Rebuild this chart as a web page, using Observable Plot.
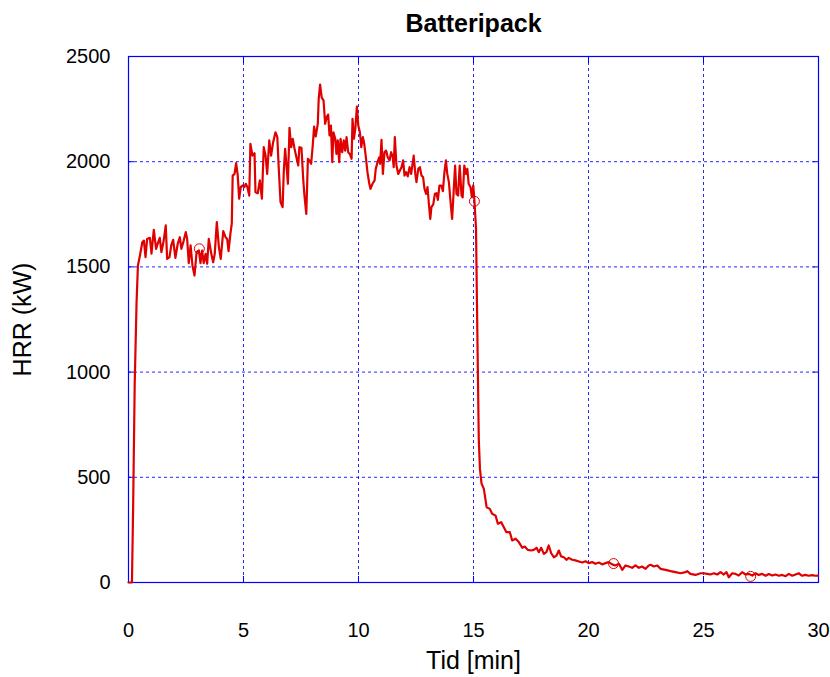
<!DOCTYPE html>
<html>
<head>
<meta charset="utf-8">
<script src="https://cdn.jsdelivr.net/npm/d3@7"></script>
<script src="https://cdn.jsdelivr.net/npm/@observablehq/plot@0.6"></script>
<style>
  html, body { margin: 0; padding: 0; background: #fff; }
  #chart { width: 830px; height: 677px; }
</style>
</head>
<body>
<div id="chart"></div>
<script>
const title = "Batteripack";
const xLabel = "Tid [min]";
const yLabel = "HRR (kW)";
const xTicks = [0, 5, 10, 15, 20, 25, 30];
const yTicks = [0, 500, 1000, 1500, 2000, 2500];

const time = [
  0, 0.15, 0.2, 0.27, 0.35, 0.41, 0.49, 0.6, 0.67, 0.74, 0.81, 0.93, 1.0, 1.1, 1.2, 1.29, 1.36, 1.43, 1.53, 1.62,
  1.68, 1.78, 1.86, 1.94, 2.04, 2.14, 2.23, 2.3, 2.4, 2.49, 2.55, 2.62, 2.7, 2.78, 2.87, 2.96, 3.06, 3.13, 3.2, 3.27,
  3.35, 3.42, 3.49, 3.6, 3.68, 3.75, 3.84, 3.93, 4.01, 4.12, 4.22, 4.29, 4.35, 4.43, 4.49, 4.53, 4.61, 4.68, 4.75, 4.81,
  4.88, 4.96, 5.03, 5.1, 5.17, 5.25, 5.3, 5.39, 5.48, 5.52, 5.62, 5.71, 5.8, 5.88, 5.96, 6.03, 6.12, 6.2, 6.29, 6.39,
  6.47, 6.53, 6.61, 6.7, 6.75, 6.81, 6.87, 6.93, 7.0, 7.07, 7.14, 7.22, 7.3, 7.38, 7.43, 7.52, 7.6, 7.65, 7.73, 7.8,
  7.87, 7.94, 8.01, 8.07, 8.14, 8.23, 8.27, 8.33, 8.4, 8.48, 8.55, 8.62, 8.68, 8.74, 8.8, 8.86, 8.91, 8.99, 9.04, 9.1,
  9.16, 9.22, 9.29, 9.36, 9.42, 9.48, 9.55, 9.62, 9.7, 9.74, 9.8, 9.86, 9.93, 9.99, 10.06, 10.12, 10.19, 10.25, 10.32, 10.39,
  10.47, 10.52, 10.61, 10.7, 10.75, 10.83, 10.9, 10.94, 11.0, 11.06, 11.13, 11.2, 11.27, 11.35, 11.42, 11.49, 11.53, 11.58, 11.65, 11.73,
  11.8, 11.87, 11.94, 12.0, 12.07, 12.14, 12.22, 12.29, 12.35, 12.4, 12.47, 12.52, 12.6, 12.67, 12.74, 12.81, 12.87, 12.94, 13.0, 13.06,
  13.12, 13.17, 13.25, 13.32, 13.39, 13.45, 13.52, 13.6, 13.67, 13.73, 13.8, 13.86, 13.93, 13.99, 14.07, 14.14, 14.2, 14.26, 14.33, 14.4,
  14.48, 14.53, 14.6, 14.67, 14.73, 14.79, 14.87, 14.93, 14.99, 15.04, 15.11, 15.15, 15.19, 15.23, 15.28, 15.35, 15.45, 15.57, 15.71, 15.81,
  15.96, 16.06, 16.2, 16.32, 16.43, 16.58, 16.68, 16.83, 16.97, 17.12, 17.23, 17.36, 17.51, 17.62, 17.74, 17.84, 17.94, 18.06, 18.17, 18.27,
  18.38, 18.49, 18.61, 18.71, 18.81, 18.93, 19.04, 19.14, 19.29, 19.43, 19.58, 19.73, 19.87, 20.01, 20.16, 20.3, 20.45, 20.6, 20.74, 20.88,
  21.03, 21.17, 21.32, 21.47, 21.61, 21.75, 21.9, 22.04, 22.19, 22.33, 22.48, 22.62, 22.7, 22.84, 22.99, 23.13, 23.35, 23.57, 23.78, 24.0,
  24.22, 24.29, 24.43, 24.65, 24.87, 25.01, 25.16, 25.3, 25.45, 25.6, 25.74, 25.88, 26.0, 26.1, 26.25, 26.39, 26.53, 26.68, 26.83, 26.97,
  27.12, 27.26, 27.4, 27.55, 27.7, 27.84, 27.99, 28.13, 28.28, 28.42, 28.57, 28.71, 28.86, 29.0, 29.14, 29.29, 29.43, 29.57, 29.73, 29.87,
  29.97
];

const hrr = [
  0, 0, 350, 946, 1330, 1507, 1549, 1617, 1625, 1546, 1633, 1638, 1563, 1676, 1586, 1617, 1638, 1570, 1625, 1697,
  1538, 1546, 1602, 1629, 1543, 1610, 1641, 1586, 1625, 1665, 1633, 1518, 1602, 1507, 1459, 1570, 1578, 1518, 1578, 1518,
  1562, 1515, 1633, 1562, 1522, 1562, 1713, 1594, 1538, 1670, 1641, 1633, 1575, 1657, 1705, 1934, 1942, 1993, 1934, 1824,
  1879, 1887, 1879, 1895, 1879, 1839, 2085, 2029, 2040, 1855, 1850, 1911, 1824, 2069, 2029, 1942, 2101, 2029, 2093, 2140,
  2117, 1974, 1808, 1784, 1950, 2061, 1982, 1895, 2161, 2069, 2109, 2061, 2021, 1982, 2069, 2066, 1911, 1839, 1752, 2014,
  2006, 1990, 2077, 2167, 2120, 2180, 2299, 2367, 2304, 2291, 2180, 2212, 2224, 2125, 2172, 1998, 2140, 2109, 2037, 2101,
  1998, 2109, 2045, 2101, 2053, 2117, 2045, 2037, 2014, 2204, 2109, 2156, 2262, 2172, 2140, 2069, 2117, 2085, 2021, 1950,
  1895, 1871, 1895, 1911, 1966, 1998, 2021, 1990, 2104, 1942, 2045, 2053, 2021, 2006, 2045, 2021, 1974, 2117, 1982, 1942,
  1958, 1974, 2006, 1934, 1950, 1930, 1974, 1942, 1990, 2029, 1942, 1903, 1966, 1974, 1934, 1926, 1871, 1847, 1879, 1800,
  1728, 1784, 1797, 1847, 1850, 1819, 1887, 1887, 1860, 1942, 2006, 1942, 1903, 1824, 1728, 1863, 1982, 1847, 1839, 1982,
  1839, 1831, 1982, 1942, 1966, 1895, 1879, 1831, 1887, 1816, 1680, 1330, 1000, 680, 540, 470, 445, 358, 350, 327,
  318, 279, 287, 263, 239, 239, 200, 208, 192, 165, 171, 155, 152, 155, 165, 144, 165, 136, 144, 176,
  139, 120, 128, 152, 124, 120, 108, 117, 108, 105, 100, 95, 101, 92, 97, 89, 95, 86, 92, 97,
  86, 81, 89, 60, 81, 76, 70, 81, 70, 76, 65, 81, 84, 76, 81, 65, 60, 54, 49, 44,
  49, 54, 41, 36, 44, 44, 41, 38, 44, 38, 49, 38, 49, 25, 44, 41, 33, 49, 38, 41,
  33, 44, 36, 41, 32, 40, 33, 38, 32, 36, 30, 41, 32, 38, 44, 32, 36, 32, 35, 32,
  33
];

const markerTime = [3.08, 15.04, 21.09, 27.05];
const markerHrr = [1586, 1812, 90, 29];

const series = time.map((t, i) => ({t, v: hrr[i]}));
const markers = markerTime.map((t, i) => ({t, v: markerHrr[i]}));

const gridColor = "#0000ff";
const chart = Plot.plot({
  width: 830,
  height: 677,
  marginLeft: 128,
  marginRight: 12,
  marginTop: 56,
  marginBottom: 95,
  style: {fontFamily: "'Liberation Sans', Arial, sans-serif", fontSize: "20px", background: "white", overflow: "visible"},
  x: {domain: [0, 30], ticks: xTicks, label: null},
  y: {domain: [0, 2500], ticks: yTicks, label: null},
  marks: [
    Plot.gridX(xTicks, {stroke: gridColor, strokeOpacity: 0.85, strokeDasharray: "3,3", strokeWidth: 1}),
    Plot.gridY(yTicks, {stroke: gridColor, strokeOpacity: 0.85, strokeDasharray: "3,3", strokeWidth: 1}),
    Plot.axisX(xTicks, {anchor: "bottom", tickSize: -6, stroke: gridColor, tickFormat: () => "", label: null}),
    Plot.axisX(xTicks, {anchor: "top", tickSize: -6, stroke: gridColor, tickFormat: () => "", label: null}),
    Plot.axisY(yTicks, {anchor: "left", tickSize: -6, stroke: gridColor, tickFormat: () => "", label: null}),
    Plot.axisY(yTicks, {anchor: "right", tickSize: -6, stroke: gridColor, tickFormat: () => "", label: null}),
    Plot.axisX(xTicks, {anchor: "bottom", tickSize: 0, tickPadding: 40, tickFormat: d3.format("d"), label: null, fontSize: 20, fill: "black"}),
    Plot.axisY(yTicks, {anchor: "left", tickSize: 0, tickPadding: 18, tickFormat: d3.format("d"), label: null, fontSize: 20, fill: "black"}),
    Plot.frame({stroke: gridColor, strokeWidth: 1.2}),
    Plot.line(series, {x: "t", y: "v", stroke: "#e00000", strokeWidth: 2.2}),
    Plot.dot(markers, {x: "t", y: "v", r: 5, stroke: "#e00000", fill: "none", strokeWidth: 1}),
    Plot.text([title], {frameAnchor: "top", lineAnchor: "middle", textAnchor: "middle", dy: -33, fontSize: 25, fontWeight: "bold", fill: "black"}),
    Plot.text([xLabel], {frameAnchor: "bottom", lineAnchor: "middle", textAnchor: "middle", dy: 78, fontSize: 25, fill: "black"}),
    Plot.text([yLabel], {frameAnchor: "left", lineAnchor: "middle", textAnchor: "middle", dx: -106, rotate: -90, fontSize: 25, fill: "black"})
  ]
});
document.getElementById("chart").appendChild(chart);
</script>
</body>
</html>
